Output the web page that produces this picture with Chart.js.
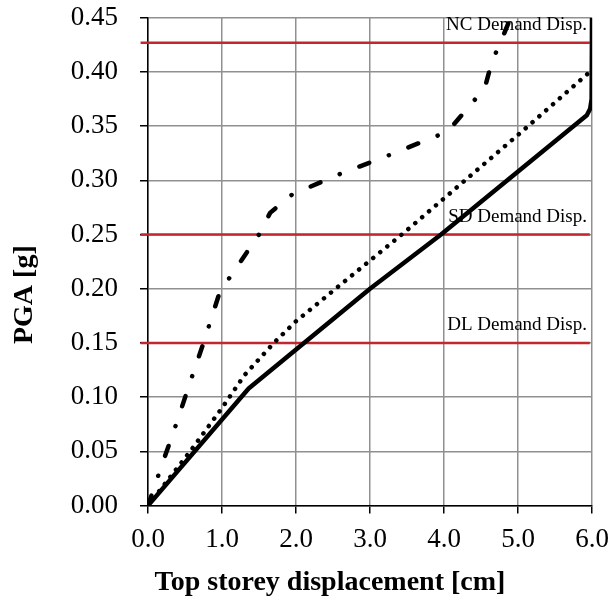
<!DOCTYPE html>
<html>
<head>
<meta charset="utf-8">
<script src="https://cdn.jsdelivr.net/npm/chart.js@4.4.1/dist/chart.umd.min.js"></script>
<style>
  html, body { margin: 0; padding: 0; background: #fff; }
  canvas { display: block; }
</style>
</head>
<body>
<canvas id="pushoverChart" width="612" height="599"></canvas>
<script>
// Top storey displacement [cm] vs PGA [g]
const solidX = [0, 1.36, 3.0, 3.96, 5.93, 5.975, 5.995, 6.0]
const solidY = [0, 0.108, 0.20, 0.25, 0.360, 0.366, 0.375, 0.45]

const dottedX = [0, 0.57, 1.0, 1.3, 1.7, 2.0, 3.5, 5.07, 5.97]
const dottedY = [0, 0.05, 0.09, 0.12, 0.15, 0.17, 0.254, 0.346, 0.40]

const dashDotX = [0, 0.15, 0.38, 0.6, 0.75, 0.97, 1.1, 1.5, 1.65, 1.95, 2.6, 3.25, 4.05, 4.55, 4.65, 4.75, 4.9]
const dashDotY = [0, 0.03, 0.075, 0.12, 0.15, 0.197, 0.21, 0.25, 0.27, 0.287, 0.306, 0.323, 0.345, 0.385, 0.41, 0.425, 0.45]

// demand displacement levels
const demandLabels = ['DL Demand Disp.', 'SD Demand Disp.', 'NC Demand Disp.']
const demandPGA = [0.15, 0.25, 0.427]
const demandSpan = [-0.1, 5.97]

const xTicks = [0, 1, 2, 3, 4, 5, 6]
const yTicks = [0, 0.05, 0.10, 0.15, 0.20, 0.25, 0.30, 0.35, 0.40, 0.45]

const xTitle = 'Top storey displacement [cm]'
const yTitle = 'PGA [g]'

const serif = '"Liberation Serif", "Times New Roman", serif'

const toPoints = (xs, ys) => xs.map((x, i) => ({ x: x, y: ys[i] }))

const datasets = [
  {
    data: toPoints(solidX, solidY),
    borderColor: '#000',
    borderWidth: 4.5,
    borderJoinStyle: 'round'
  },
  {
    data: toPoints(dottedX, dottedY),
    borderColor: '#000',
    borderWidth: 4.5,
    borderDash: [0.1, 9],
    borderCapStyle: 'round'
  },
  {
    data: toPoints(dashDotX, dashDotY),
    borderColor: '#000',
    borderWidth: 4.5,
    borderDash: [10.5, 21, 0.1, 21],
    borderCapStyle: 'round'
  }
]

demandPGA.forEach(pga => {
  datasets.push({
    data: demandSpan.map(x => ({ x: x, y: pga })),
    borderColor: '#c1272d',
    borderWidth: 2.5,
    clip: false
  })
})

// demand labels above each red line
const demandLabelPlugin = {
  id: 'demandLabels',
  beforeDatasetsDraw (chart) {
    const ctx = chart.ctx
    const yScale = chart.scales.y
    ctx.save()
    ctx.font = '19px ' + serif
    ctx.fillStyle = '#000'
    ctx.textAlign = 'right'
    ctx.textBaseline = 'alphabetic'
    demandLabels.forEach((label, i) => {
      ctx.fillText(label, chart.chartArea.right - 5, yScale.getPixelForValue(demandPGA[i]) - 13)
    })
    ctx.restore()
  }
}

// axis titles sit a bit off-centre in the original, so place them by hand
const axisTitlePlugin = {
  id: 'axisTitles',
  afterDraw (chart) {
    const ctx = chart.ctx
    const area = chart.chartArea
    ctx.save()
    ctx.font = 'bold 28px ' + serif
    ctx.fillStyle = '#000'
    ctx.textAlign = 'center'
    ctx.textBaseline = 'alphabetic'
    ctx.fillText(xTitle, (area.left + area.right) / 2 - 40, chart.height - 9)

    ctx.translate(32, (area.top + area.bottom) / 2 + 33)
    ctx.rotate(-Math.PI / 2)
    ctx.fillText(yTitle, 0, 0)
    ctx.restore()
  }
}

const tickFont = { family: serif, size: 27 }

new Chart(document.getElementById('pushoverChart'), {
  type: 'line',
  data: { datasets: datasets },
  options: {
    responsive: false,
    animation: false,
    layout: { padding: 0 },
    elements: { point: { radius: 0 }, line: { tension: 0 } },
    plugins: {
      legend: { display: false },
      tooltip: { enabled: false }
    },
    scales: {
      x: {
        type: 'linear',
        min: 0,
        max: 6,
        afterBuildTicks: scale => { scale.ticks = xTicks.map(v => ({ value: v })) },
        afterFit: scale => {
          scale.height = 93.4
          scale.paddingLeft = 0
          scale.paddingRight = 20
        },
        grid: { color: '#909090', lineWidth: 1.5, tickColor: '#000', tickLength: 8 },
        border: { color: '#000', width: 1.5 },
        ticks: {
          color: '#000',
          font: tickFont,
          padding: 10,
          maxRotation: 0,
          callback: v => v.toFixed(1)
        }
      },
      y: {
        min: 0,
        max: 0.45,
        afterBuildTicks: scale => { scale.ticks = yTicks.map(v => ({ value: v })) },
        afterFit: scale => {
          scale.width = 148
          scale.paddingTop = 17.7
          scale.paddingBottom = 0
        },
        grid: { color: '#909090', lineWidth: 1.5, tickColor: '#000', tickLength: 8 },
        border: { color: '#000', width: 1.5 },
        ticks: {
          color: '#000',
          font: tickFont,
          padding: 22,
          callback: v => v.toFixed(2)
        }
      }
    }
  },
  plugins: [demandLabelPlugin, axisTitlePlugin]
})
</script>
</body>
</html>
